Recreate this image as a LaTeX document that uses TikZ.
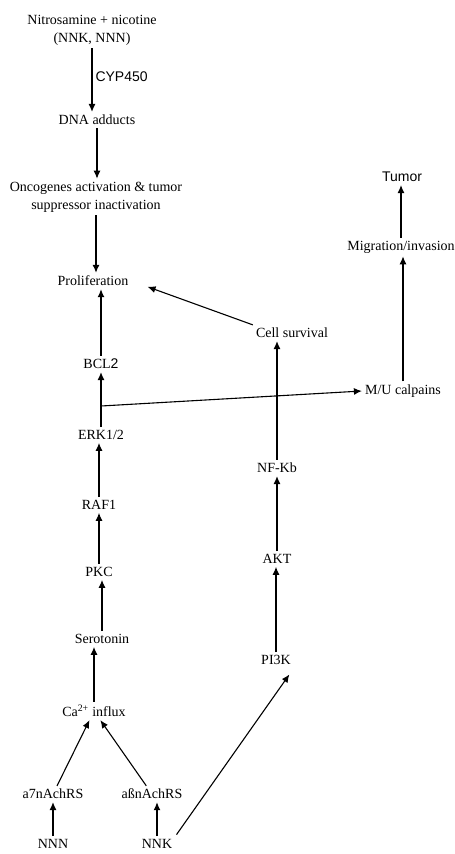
\documentclass[tikz,border=0pt]{standalone}
\usepackage{fontspec}
\setmainfont{Liberation Serif}
\newfontfamily\arialfont{Liberation Sans}
\usetikzlibrary{arrows.meta}
\begin{document}
\begin{tikzpicture}[x=1pt, y=-1pt, >={Latex[length=8pt,width=7pt]},
    lbl/.style={font=\fontsize{14}{18}\selectfont, inner sep=3pt, align=center},
    sanslbl/.style={font=\arialfont\fontsize{14}{18}\selectfont, inner sep=3pt},
    arr/.style={->, line width=1.1pt}]
    \useasboundingbox (0,0) rectangle (455,854);

    % 1. Linke Spalte: Nitrosamine bis Proliferation
    \node[lbl] (nitro)  at (92,30)  {Nitrosamine + nicotine\\(NNK, NNN)};
    \node[lbl] (dna)    at (97,120) {DNA adducts};
    \node[lbl] (onco)   at (96,197) {Oncogenes activation \& tumor\\suppressor inactivation};
    \node[lbl] (prolif) at (93,281) {Proliferation};

    % 2. Signalweg ueber Ca-Einstrom
    \node[lbl] (bcl)   at (101,364) {BCL{\arialfont 2}};
    \node[lbl] (erk)   at (101,435) {ERK1/2};
    \node[lbl] (raf)   at (99,505)  {RAF1};
    \node[lbl] (pkc)   at (99,572)  {PKC};
    \node[lbl] (sero)  at (102,639) {Serotonin};
    \node[lbl] (ca)    at (94,711)  {Ca\textsuperscript{2+} influx};
    \node[lbl] (asev)  at (53,794)  {a7nAchRS};
    \node[lbl] (abeta) at (152,794) {aßnAchRS};
    \node[lbl] (nnn)   at (53,844)  {NNN};
    \node[lbl] (nnk)   at (157,844) {NNK};

    % 3. Rechte Spalten
    \node[lbl] (pik)      at (276,660) {PI3K};
    \node[lbl] (akt)      at (277,559) {AKT};
    \node[lbl] (nfkb)     at (277,468) {NF-Kb};
    \node[lbl] (cellsurv) at (292,333) {Cell survival};
    \node[lbl] (mucalp)   at (403,391) {M/U calpains};
    \node[lbl] (migr)     at (401,247) {Migration/invasion};
    \node[sanslbl] (tumor) at (402,177) {Tumor};

    % 4. Pfeile
    \draw[arr] (nitro) -- node[sanslbl, right, pos=0.45] {CYP450} (nitro |- dna.north);
    \draw[arr] (dna) -- (dna |- onco.north);
    \draw[arr] (onco) -- (onco |- prolif.north);
    \draw[arr] (bcl) -- (bcl |- prolif.south);
    \draw[arr] (erk) -- (erk |- bcl.south);
    \draw[arr] (raf) -- (raf |- erk.south);
    \draw[arr] (pkc) -- (pkc |- raf.south);
    \draw[arr] (sero) -- (sero |- pkc.south);
    \draw[arr] (ca) -- (ca |- sero.south);
    \draw[arr] (asev) -- (ca);
    \draw[arr] (abeta) -- (ca);
    \draw[arr] (nnn) -- (nnn |- asev.south);
    \draw[arr] (nnk) -- (nnk |- abeta.south);
    \draw[arr, shorten <=2pt, shorten >=8pt] (nnk.north east) -- (pik.south east);
    \draw[arr] (pik) -- (pik |- akt.south);
    \draw[arr] (akt) -- (akt |- nfkb.south);
    \draw[arr] (nfkb.north) -- (nfkb.north |- cellsurv.south);
    \draw[arr, shorten >=17pt] (cellsurv.north west) -- (prolif.east);
    \coordinate (branch) at (101,406);
    \draw[arr] (branch) -- (mucalp.west);
    \draw[arr] (mucalp) -- (mucalp |- migr.south);
    \draw[arr] (migr) -- (migr |- tumor.south);
\end{tikzpicture}
\end{document}
